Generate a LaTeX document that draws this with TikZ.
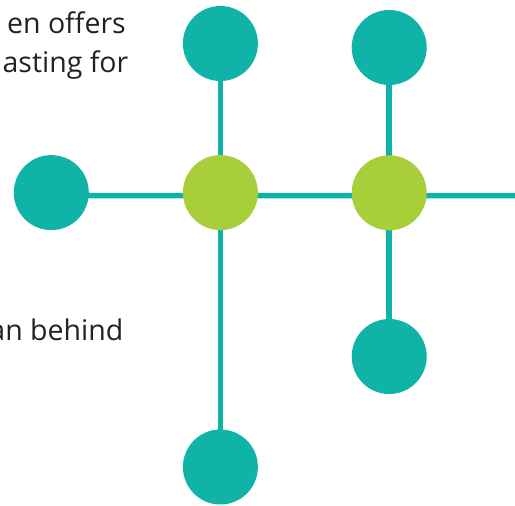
\documentclass[tikz,border=0pt]{standalone}
\usepackage{fontspec}
\setmainfont{Open Sans}
\usetikzlibrary{calc,backgrounds}
\definecolor{teal1}{HTML}{10B3A8}
\definecolor{lime1}{HTML}{A8CF3A}
\definecolor{txt}{HTML}{222222}
\begin{document}
\begin{tikzpicture}[x=1pt,y=-1pt,
  dot/.style={circle,fill=teal1,minimum size=75pt,inner sep=0pt},
  hub/.style={circle,fill=lime1,minimum size=75pt,inner sep=0pt},
  link/.style={draw=teal1,line width=5.5pt},
  para/.style={anchor=base east,inner sep=0pt,text=txt,font=\fontsize{28.5}{34}\selectfont}]
\useasboundingbox (0,0) rectangle (515,506);
\clip (0,0) rectangle (515,506);
% nodes
\node[dot] (tl) at (220.4,43.5) {};
\node[dot] (tr) at (389.2,47.5) {};
\node[dot] (l)  at (51.3,192.6) {};
\node[hub] (g1) at (220.4,192.6) {};
\node[hub] (g2) at (389.2,192.8) {};
\node[dot] (br) at (389.2,356.5) {};
\node[dot] (b)  at (220.4,467) {};
\coordinate (re) at (520,195.5);
% texts (clipped at the left edge, as in the reference)
\node[para] (t1) at (126,33) {en offers};
\node[para] (t2) at (128.5,72) {asting for};
\node[para] (t3) at (123.5,340) {an behind};
% connectors behind the circles
\begin{scope}[on background layer]
\draw[link] (tl.center) -- (b.center);
\draw[link] (tr.center) -- (br.center);
\draw[link] ($(l.center)+(0,3)$) -- (re);
\end{scope}
\end{tikzpicture}
\end{document}
